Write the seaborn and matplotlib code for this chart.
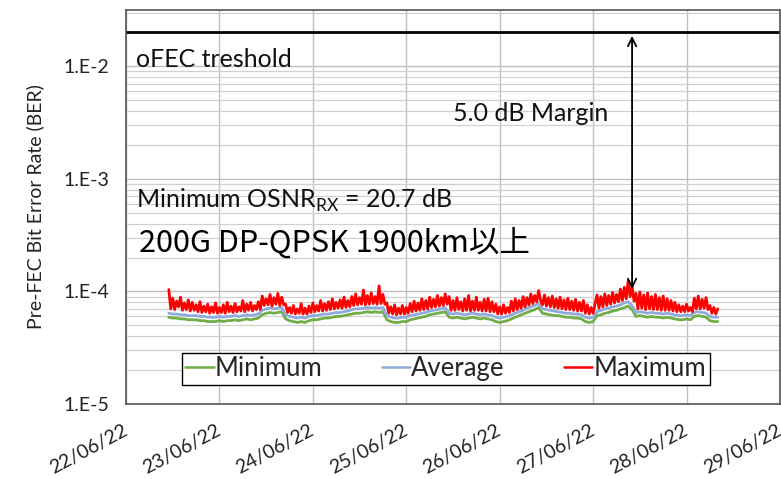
import numpy as np
import pandas as pd
import matplotlib
matplotlib.use("Agg")
import matplotlib.pyplot as plt
import matplotlib.dates as mdates
import matplotlib.ticker as ticker
import seaborn as sns

# samples start 22/06/22 11:00, values in units of 1e-5
start_time = "2022-06-22 11:00"

# hourly
ber_min = [5.9, 5.8, 5.8, 5.7, 5.7, 5.6, 5.6, 5.6, 5.5, 5.5, 5.4, 5.4, 5.4,
           5.5, 5.4, 5.5, 5.5, 5.6, 5.5, 5.6, 5.7, 5.6, 5.7, 5.8,
           6.2, 6.4, 6.5, 6.4, 6.5, 6.6,
           5.7, 5.5, 5.4, 5.3, 5.4, 5.3,
           5.5, 5.6, 5.6, 5.7, 5.8, 5.8, 5.9, 6.0, 6.0, 6.1, 6.2,
           6.3, 6.4, 6.4, 6.5, 6.6, 6.5, 6.6, 6.5, 6.6,
           5.6, 5.4, 5.3, 5.3, 5.4, 5.4,
           5.6, 5.7, 5.8, 5.9, 6.0, 6.2, 6.3, 6.4, 6.5, 6.6,
           5.9, 5.8, 5.9, 5.8, 5.7, 5.8, 5.9, 5.8, 5.7, 5.8, 5.7, 5.6,
           5.4, 5.3, 5.4, 5.5,
           5.7, 5.9, 6.1, 6.3, 6.5, 6.7, 6.9, 7.2,
           6.4, 6.3, 6.2, 6.1, 6.1, 6.0, 5.9, 5.9, 5.8, 5.8, 5.7,
           5.4, 5.3, 5.4,
           6.1, 6.2, 6.4, 6.5, 6.7, 6.8, 7.0, 7.2, 7.4,
           6.9,
           6.0, 6.1, 6.0, 5.9, 6.0, 5.9, 5.9, 5.8, 5.9, 5.8, 5.7, 5.6, 5.6, 5.7, 5.6,
           6.0, 6.1, 6.0, 5.9,
           5.5, 5.4, 5.4]

ber_avg = [6.4, 6.3, 6.3, 6.2, 6.2, 6.1, 6.1, 6.1, 6.0, 6.0, 5.9, 5.9, 5.9,
           6.0, 5.9, 6.0, 6.0, 6.1, 6.0, 6.1, 6.2, 6.1, 6.2, 6.3,
           6.8, 7.0, 7.1, 7.0, 7.1, 7.2,
           6.2, 6.0, 5.9, 5.8, 5.9, 5.8,
           6.0, 6.1, 6.1, 6.2, 6.3, 6.3, 6.4, 6.5, 6.5, 6.6, 6.7,
           6.9, 7.0, 7.0, 7.1, 7.2, 7.1, 7.2, 7.1, 7.2,
           6.1, 5.9, 5.8, 5.8, 5.9, 5.9,
           6.1, 6.2, 6.3, 6.4, 6.5, 6.7, 6.8, 6.9, 7.0, 7.2,
           6.4, 6.3, 6.4, 6.3, 6.2, 6.3, 6.4, 6.3, 6.2, 6.3, 6.2, 6.1,
           5.9, 5.8, 5.9, 6.0,
           6.2, 6.4, 6.6, 6.8, 7.1, 7.3, 7.5, 7.8,
           7.0, 6.9, 6.8, 6.7, 6.6, 6.5, 6.4, 6.4, 6.3, 6.3, 6.2,
           5.9, 5.8, 5.9,
           6.6, 6.8, 7.0, 7.1, 7.3, 7.4, 7.6, 7.9, 8.1,
           7.5,
           6.5, 6.6, 6.5, 6.4, 6.5, 6.4, 6.4, 6.3, 6.4, 6.3, 6.2, 6.1, 6.1, 6.2, 6.1,
           6.5, 6.6, 6.5, 6.4,
           6.0, 5.9, 5.9]

# every 30 min
ber_max = [10.4, 7.0, 8.7, 6.9, 8.2, 7.3, 8.9, 6.8, 7.9, 6.9, 8.4, 6.7, 8.0,
           6.8, 7.6, 6.6, 8.1, 6.5, 7.4, 6.6, 7.7, 6.4, 7.3, 6.5, 7.9, 6.4,
           7.2, 6.5, 7.6, 6.4, 8.0, 6.6, 7.4, 6.5, 7.8, 6.6, 7.3, 6.7, 8.3, 6.6,
           7.7, 6.8, 8.0, 6.7, 7.5, 6.9, 8.1, 6.9,
           9.1, 7.5, 8.6, 7.6, 9.4, 7.4, 8.8, 7.7, 9.6, 7.5, 8.9, 7.6,
           7.7, 6.5, 7.2, 6.4, 7.5, 6.3, 7.0, 6.4, 7.8, 6.3, 7.1, 6.3,
           7.4, 6.5, 7.9, 6.6, 7.5, 6.7, 8.3, 6.7, 7.8, 6.8, 8.1, 6.9, 8.6, 7.0,
           8.0, 7.1, 8.4, 7.1, 8.9, 7.2, 8.3, 7.3,
           9.0, 7.5, 9.5, 7.6, 8.8, 7.7, 10.3, 7.6, 9.2, 7.7, 9.7, 7.8, 9.0, 7.7,
           11.2, 7.8, 9.4, 7.7,
           7.9, 6.4, 7.3, 6.3, 7.6, 6.2, 7.1, 6.3, 7.5, 6.3, 7.2, 6.4,
           7.8, 6.6, 8.2, 6.7, 7.9, 6.8, 8.6, 6.9, 8.3, 7.0, 8.9, 7.2, 8.5, 7.3,
           9.2, 7.4, 8.8, 7.5, 9.5, 7.7,
           9.0, 6.8, 8.3, 6.8, 8.8, 6.9, 8.1, 6.7, 8.6, 6.8, 9.2, 6.7, 8.2, 6.8,
           8.9, 6.8, 8.0, 6.7, 8.5, 6.7, 8.7, 6.6, 8.1, 6.6,
           7.7, 6.3, 7.3, 6.3, 7.6, 6.4, 7.2, 6.5,
           8.2, 6.7, 8.6, 6.9, 8.3, 7.1, 9.0, 7.3, 8.8, 7.6, 9.5, 7.8, 9.2, 8.1,
           10.2, 8.3,
           7.6, 9.3, 7.4, 8.8, 7.3, 9.1, 7.2, 8.6, 7.1, 8.9, 7.0, 8.4, 6.9, 8.7,
           6.9, 8.2, 6.8, 8.5, 6.7, 8.0, 6.7, 8.3,
           6.4, 7.6, 6.3, 7.2, 6.4, 7.8,
           9.3, 7.1, 9.0, 7.3, 9.5, 7.5, 9.2, 7.7, 9.8, 7.9, 9.4, 8.1, 10.5, 8.3,
           10.9, 8.6, 12.4, 9.0,
           11.2, 8.2,
           9.6, 7.0, 9.9, 7.1, 9.3, 6.9, 9.7, 7.0, 9.0, 6.9, 9.4, 6.9, 8.8, 6.8,
           9.1, 6.8, 8.6, 6.8, 8.3, 6.7, 8.0, 6.6, 7.6, 6.6, 7.4, 6.6, 7.7, 6.7,
           7.2, 6.6,
           8.7, 7.0, 9.1, 7.0, 8.5, 7.1, 8.8, 6.9,
           7.5, 6.4, 7.2, 6.3, 7.0]

series_names = ["Minimum", "Average", "Maximum"]
series_colors = ["#70AD47", "#8FAADC", "#FF0000"]

threshold = 2.0e-2
margin_time = "2022-06-27 10:00"
margin_low = 1.05e-4

t_hour = pd.date_range(start_time, periods=len(ber_min), freq="h")
t_half = pd.date_range(start_time, periods=len(ber_max), freq="30min")
long_df = pd.concat([
    pd.DataFrame({"time": t_hour, "ber": np.array(ber_min) * 1e-5, "series": "Minimum"}),
    pd.DataFrame({"time": t_hour, "ber": np.array(ber_avg) * 1e-5, "series": "Average"}),
    pd.DataFrame({"time": t_half, "ber": np.array(ber_max) * 1e-5, "series": "Maximum"}),
], ignore_index=True)

sns.set_style("white")
plt.rcParams["font.family"] = ["Lato", "DejaVu Sans"]
plt.rcParams["mathtext.fontset"] = "custom"
plt.rcParams["mathtext.rm"] = "Lato"

fig = plt.figure(figsize=(7.81, 4.79), dpi=100)
ax = fig.add_axes([126 / 781, 75 / 479, 654 / 781, 394 / 479])

sns.lineplot(data=long_df, x="time", y="ber", hue="series", hue_order=series_names,
             palette=series_colors, linewidth=2.0, ax=ax, legend=False)

ax.set_yscale("log")
ax.set_ylim(1e-5, 10 ** -1.5)
ax.set_xlim(pd.Timestamp("2022-06-22"), pd.Timestamp("2022-06-29"))

# excel style grid
ax.yaxis.set_major_locator(ticker.LogLocator(base=10, numticks=10))
ax.yaxis.set_minor_locator(ticker.LogLocator(base=10, subs=np.arange(2, 10), numticks=20))
ax.yaxis.set_major_formatter(ticker.FuncFormatter(lambda v, p: f"1.E{int(round(np.log10(v)))}"))
ax.yaxis.set_minor_formatter(ticker.NullFormatter())
ax.xaxis.set_major_locator(mdates.DayLocator())
ax.xaxis.set_major_formatter(mdates.DateFormatter("%d/%m/%y"))
ax.grid(True, which="major", axis="both", color="#c0c0c0", linewidth=1.0)
ax.grid(True, which="minor", axis="y", color="#d0d0d0", linewidth=0.9)
ax.set_axisbelow(True)

for s in ax.spines.values():
    s.set_color("#555555")
    s.set_linewidth(1.2)

ax.tick_params(axis="both", which="both", length=0, labelsize=14, colors="#222222")
ax.tick_params(axis="y", pad=12)
ax.tick_params(axis="x", pad=18)
for lbl in ax.get_xticklabels():
    lbl.set_rotation(28)
    lbl.set_ha("right")
    lbl.set_va("center")
    lbl.set_rotation_mode("anchor")

ax.set_xlabel("")
ax.set_ylabel("Pre-FEC Bit Error Rate (BER)", fontsize=14, labelpad=14, color="#222222")

# threshold and margin arrow
ax.axhline(threshold, color="black", linewidth=2.0)
ax.annotate("", xy=(pd.Timestamp(margin_time), threshold * 0.93),
            xytext=(pd.Timestamp(margin_time), margin_low),
            arrowprops=dict(arrowstyle="<->", color="black", lw=1.3,
                            mutation_scale=15, shrinkA=0, shrinkB=0))

ax.text(0.016, 0.874, "oFEC treshold", transform=ax.transAxes, fontsize=18, color="#111111", va="center")
ax.text(0.500, 0.738, "5.0 dB Margin", transform=ax.transAxes, fontsize=18, color="#111111", va="center")
ax.text(0.016, 0.518, r"Minimum OSNR$_{\mathrm{RX}}$ = 20.7 dB", transform=ax.transAxes,
        fontsize=18, color="#111111", va="center")
ax.text(0.02, 0.41, "200G DP-QPSK 1900km以上", transform=ax.transAxes, fontsize=22,
        color="black", va="center", family=["Noto Sans CJK JP", "DejaVu Sans"])

handles = [plt.Line2D([], [], color=c, linewidth=1.8) for c in series_colors]
leg = ax.legend(handles, series_names, ncol=3, loc="center", bbox_to_anchor=(0.489, 0.089),
                fontsize=18.5, frameon=True, fancybox=False, edgecolor="black",
                handlelength=1.1, handletextpad=0.05, columnspacing=2.3,
                borderpad=0.15, borderaxespad=0, framealpha=1)
leg.get_frame().set_linewidth(1.0)

fig.savefig("out.png", dpi=100)
